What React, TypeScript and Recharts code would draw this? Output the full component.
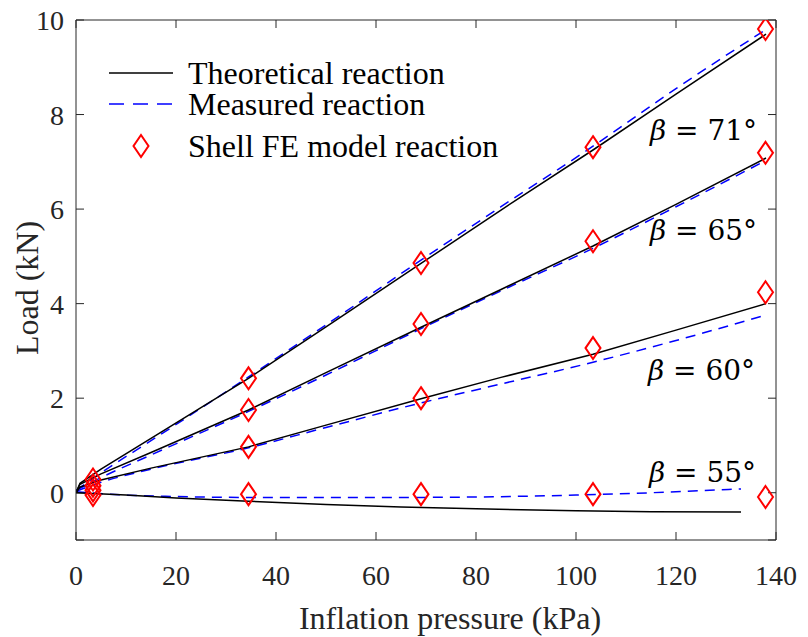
import React from 'react'
import { ComposedChart, Line, Scatter, XAxis, YAxis, ReferenceDot, ReferenceLine, CartesianGrid, Customized } from 'recharts'

// Theoretical reaction (black solid)
const theoryP = [0, 0.8, 5, 15, 34.5, 50, 69, 85, 103.4, 120, 138]
const theory71 = [0, 0.2, 0.5, 1.15, 2.42, 3.51, 4.85, 5.98, 7.25, 8.43, 9.7]
const theory65 = [0, 0.18, 0.4, 0.85, 1.75, 2.54, 3.5, 4.3, 5.22, 6.1, 7.08]
const theory60 = [0, 0.12, 0.27, 0.52, 0.97, 1.43, 1.99, 2.44, 2.93, 3.44, 4.0]
const theoryP55 = [0, 10, 20, 34.5, 50, 65, 80, 100, 115, 133]
const theory55 = [0, -0.05, -0.11, -0.18, -0.25, -0.3, -0.34, -0.38, -0.4, -0.41]

// Measured reaction (blue dashed)
const measP = [0, 5, 15, 34.5, 50, 69, 85, 103.4, 120, 138]
const meas71 = [0.05, 0.42, 1.1, 2.45, 3.55, 4.92, 6.05, 7.33, 8.55, 9.8]
const meas65 = [0.05, 0.32, 0.8, 1.72, 2.49, 3.47, 4.27, 5.17, 6.05, 7.03]
const meas60 = [0.03, 0.22, 0.5, 0.95, 1.38, 1.9, 2.3, 2.76, 3.22, 3.76]
const measP55 = [0, 10, 20, 34.5, 50, 65, 80, 100, 115, 133]
const meas55 = [0.02, -0.05, -0.08, -0.1, -0.1, -0.1, -0.09, -0.05, 0.0, 0.08]

// Shell FE model reaction (red diamonds)
const feP = [3.4, 34.5, 69, 103.4, 137.9]
const fe71 = [0.28, 2.42, 4.86, 7.31, 9.81]
const fe65 = [0.15, 1.75, 3.57, 5.32, 7.19]
const fe60 = [0.05, 0.97, 2.0, 3.06, 4.24]
const fe55 = [-0.05, -0.03, -0.03, -0.03, -0.09]

const xTicks = [0, 20, 40, 60, 80, 100, 120, 140]
const yTicks = [0, 2, 4, 6, 8, 10]

// annotation anchors (left edge of text, vertical centre)
const labels = [
  { text: '71°', x: 114.8, y: 7.67 },
  { text: '65°', x: 114.8, y: 5.55 },
  { text: '60°', x: 114.4, y: 2.6 },
  { text: '55°', x: 114.6, y: 0.44 },
]

const zip = (xs: number[], ys: number[]) => xs.map((x, i) => ({ x, y: ys[i] }))

const theorySeries = [zip(theoryP, theory71), zip(theoryP, theory65), zip(theoryP, theory60), zip(theoryP55, theory55)]
const measSeries = [zip(measP, meas71), zip(measP, meas65), zip(measP, meas60), zip(measP55, meas55)]
const feSeries = [zip(feP, fe71), zip(feP, fe65), zip(feP, fe60), zip(feP, fe55)]

const SERIF = '"Liberation Serif", "Times New Roman", serif'
const AXIS = '#262626'
const TICK = 8

const Diamond = (props: any) => {
  const { cx, cy } = props
  if (cx == null || cy == null) return null
  return (
    <path
      d={`M${cx},${cy - 11} L${cx + 7.5},${cy} L${cx},${cy + 11} L${cx - 7.5},${cy} Z`}
      fill="none"
      stroke="#ff0000"
      strokeWidth={2}
    />
  )
}

const XTick = (props: any) => (
  <text x={props.x} y={props.y + 45} textAnchor="middle" fontFamily={SERIF} fontSize={28} fill={AXIS}>
    {props.payload.value}
  </text>
)

const YTick = (props: any) => (
  <text x={props.x - 12} y={props.y + 10} textAnchor="end" fontFamily={SERIF} fontSize={28} fill={AXIS}>
    {props.payload.value}
  </text>
)

// inward tick marks on both ends of each grid line
const VTicks = (p: any) => (
  <g key={p.key} stroke={AXIS} strokeWidth={1}>
    <line x1={p.x1} y1={p.y1} x2={p.x1} y2={p.y1 + TICK} />
    <line x1={p.x2} y1={p.y2} x2={p.x2} y2={p.y2 - TICK} />
  </g>
)
const HTicks = (p: any) => (
  <g key={p.key} stroke={AXIS} strokeWidth={1}>
    <line x1={p.x1} y1={p.y1} x2={p.x1 + TICK} y2={p.y1} />
    <line x1={p.x2} y1={p.y2} x2={p.x2 - TICK} y2={p.y2} />
  </g>
)

const Decorations = () => (
  <g fontFamily={SERIF} fontSize={32} fill="#000">
    {/* legend */}
    <line x1={109} y1={73} x2={173} y2={73} stroke="#000" strokeWidth={1.5} />
    <text x={188} y={84}>Theoretical reaction</text>
    <line x1={109} y1={104} x2={173} y2={104} stroke="#0000ff" strokeWidth={1.5} strokeDasharray="15 9" />
    <text x={188} y={115}>Measured reaction</text>
    <Diamond cx={141} cy={146} />
    <text x={188} y={157}>Shell FE model reaction</text>
    {/* axis titles */}
    <text x={450} y={629} textAnchor="middle" fill={AXIS}>Inflation pressure (kPa)</text>
    <text x={38} y={288} textAnchor="middle" fill={AXIS} transform="rotate(-90 38 288)">Load (kN)</text>
  </g>
)

const BetaLabel = (text: string) => (props: any) => {
  const vb = props.viewBox || {}
  const x = vb.x + (vb.width || 0) / 2
  const y = vb.y + (vb.height || 0) / 2
  return (
    <text x={x} y={y} dy="0.35em" fontFamily='"DejaVu Serif", serif' fontSize={28} fill="#000">
      <tspan fontStyle="italic">β</tspan>
      <tspan> = {text}</tspan>
    </text>
  )
}

export default function App() {
  return (
    <div style={{ position: 'absolute', left: 0, top: 0, background: '#fff' }}>
      <ComposedChart width={808} height={637} margin={{ top: 20, right: 32, bottom: 0, left: 0 }}>
        <CartesianGrid xAxisId="main" yAxisId="main" vertical={VTicks} horizontal={HTicks} stroke={AXIS} />
        <XAxis
          xAxisId="main"
          dataKey="x"
          type="number"
          domain={[0, 140]}
          ticks={xTicks}
          height={97}
          stroke={AXIS}
          tickLine={false}
          tickSize={0}
          tickMargin={0}
          tick={<XTick />}
          allowDataOverflow
        />
        <YAxis
          yAxisId="main"
          type="number"
          domain={[-1, 10]}
          ticks={yTicks}
          width={76}
          stroke={AXIS}
          tickLine={false}
          tickSize={0}
          tickMargin={0}
          tick={<YTick />}
          allowDataOverflow
        />
        <ReferenceLine xAxisId="main" yAxisId="main" x={140} stroke={AXIS} strokeWidth={1} />
        <ReferenceLine xAxisId="main" yAxisId="main" y={10} stroke={AXIS} strokeWidth={1} />

        {measSeries.map((d, i) => (
          <Line
            key={`m${i}`}
            xAxisId="main"
            yAxisId="main"
            data={d}
            dataKey="y"
            type="monotone"
            stroke="#0000ff"
            strokeWidth={1.5}
            strokeDasharray="10 7"
            dot={false}
            activeDot={false}
            isAnimationActive={false}
          />
        ))}
        {theorySeries.map((d, i) => (
          <Line
            key={`t${i}`}
            xAxisId="main"
            yAxisId="main"
            data={d}
            dataKey="y"
            type="linear"
            stroke="#000"
            strokeWidth={1.5}
            dot={false}
            activeDot={false}
            isAnimationActive={false}
          />
        ))}
        {feSeries.map((d, i) => (
          <Scatter
            key={`f${i}`}
            xAxisId="main"
            yAxisId="main"
            data={d}
            dataKey="y"
            shape={<Diamond />}
            isAnimationActive={false}
          />
        ))}
        {labels.map((l) => (
          <ReferenceDot
            key={l.text}
            xAxisId="main"
            yAxisId="main"
            x={l.x}
            y={l.y}
            r={0}
            stroke="none"
            fill="none"
            label={BetaLabel(l.text)}
          />
        ))}
        <Customized component={Decorations} />
      </ComposedChart>
    </div>
  )
}
